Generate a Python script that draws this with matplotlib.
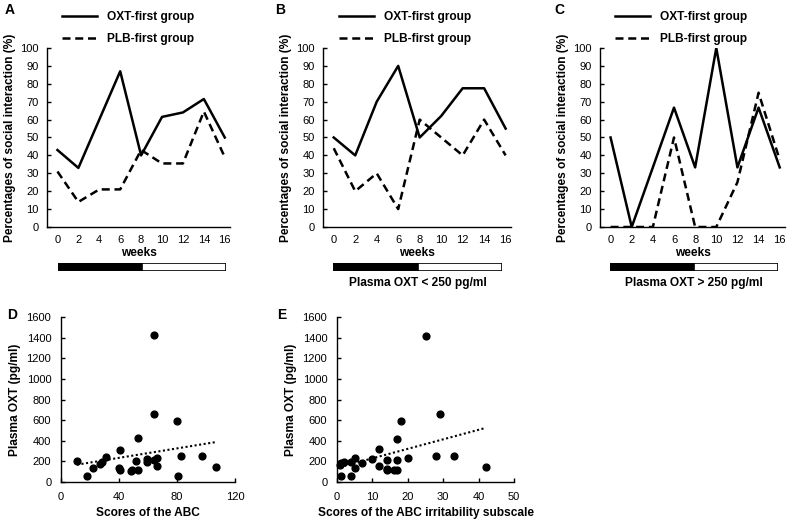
import numpy as np
import matplotlib
matplotlib.use("Agg")
import matplotlib.pyplot as plt

plt.rcParams['font.family'] = ['Liberation Sans', 'DejaVu Sans']

W, H = 792, 523

# weekly social interaction (%)
weeks = [0, 2, 4, 6, 8, 10, 12, 14, 16]
oxt_a = [43, 33, 60, 87, 40, 61.5, 64, 71.5, 50]
plb_a = [31, 14, 21, 21, 43, 35.5, 35.5, 64.5, 39]
oxt_b = [50, 40, 70, 90, 50, 62, 77.5, 77.5, 55]
plb_b = [44, 20, 30, 10, 60, 50, 40, 60, 40]
oxt_c = [50, 0, 33.3, 66.7, 33.3, 100, 33.3, 66.7, 33.3]
plb_c = [0, 0, 0, 50, 0, 0, 25, 75, 37.5]

# treatment phases (weeks) shown under the line charts
phase_len = [8, 8]
phase_col = ['black', 'white']

# scatter: ABC total score vs plasma OXT
abc_score = [11, 18, 22, 27, 28, 31, 40, 41, 41, 48, 49, 52, 53, 53, 59, 59,
             64, 64, 64, 66, 66, 80, 81, 83, 97, 107]
abc_oxt = [200, 55, 133, 172, 195, 240, 140, 114, 315, 107, 120, 205, 423, 114,
           192, 221, 211, 657, 1422, 237, 153, 589, 59, 254, 254, 143]

# scatter: ABC irritability subscale vs plasma OXT
irr_score = [0.8, 1, 2, 1, 4, 4, 5, 5, 7, 10, 12, 12, 14, 14, 14, 16, 17, 17,
             17, 18, 20, 25, 28, 29, 33, 42]
irr_oxt = [168, 185, 194, 61, 55, 195, 229, 136, 181, 223, 320, 152, 213, 113,
           125, 120, 113, 210, 420, 588, 236, 1415, 255, 656, 255, 142]


def px_axes(fig, left, right, top, bottom):
    return fig.add_axes([left / W, 1 - bottom / H, (right - left) / W, (bottom - top) / H])


fig = plt.figure(figsize=(W / 100, H / 100), dpi=100)

line_panels = [
    ('A', oxt_a, plb_a, (47, 230), 62, (58, 226), '', (10, 10)),
    ('B', oxt_b, plb_b, (323, 511), 339, (333, 502), 'Plasma OXT < 250 pg/ml', (280, 10)),
    ('C', oxt_c, plb_c, (600, 785), 615, (610, 778), 'Plasma OXT > 250 pg/ml', (559, 10)),
]

for lab, oxt, plb, (l, r), lgx, (bx0, bx1), bar_txt, (tx, ty) in line_panels:
    ax = px_axes(fig, l, r, 48, 227)
    ax.plot(weeks, oxt, color='black', lw=1.8, label='OXT-first group')
    ax.plot(weeks, plb, color='black', lw=1.8, dashes=(3.2, 1.9), label='PLB-first group')
    ax.set_xlim(-1, 16.5)
    ax.set_ylim(0, 100)
    ax.set_xticks(weeks)
    ax.set_yticks(range(0, 101, 10))
    ax.spines['top'].set_visible(False)
    ax.spines['right'].set_visible(False)
    for s in ['left', 'bottom']:
        ax.spines[s].set_linewidth(1.0)
    ax.tick_params(axis='y', direction='in', length=3, width=1, labelsize=8, pad=6)
    ax.tick_params(axis='x', length=0, labelsize=8, pad=6)
    ax.set_xlabel('weeks', fontsize=8.6, fontweight='bold', labelpad=1)
    ax.set_ylabel('Percentages of social interaction (%)', fontsize=8.6, fontweight='bold', labelpad=3)
    ax.legend(loc='upper left', bbox_to_anchor=(lgx / W, 1 - 11 / H), bbox_transform=fig.transFigure,
              frameon=False, borderpad=0, borderaxespad=0, handlelength=2.93, handletextpad=0.84,
              labelspacing=0.85, prop={'size': 8.6, 'weight': 'bold'})
    fig.text(tx / W, 1 - ty / H, lab, fontsize=10, fontweight='bold', ha='center', va='center')

    # treatment timeline bar
    bax = px_axes(fig, bx0, bx1, 263, 271)
    starts = np.cumsum([0] + phase_len[:-1])
    bax.barh(0, phase_len, left=starts, height=1, color=phase_col, edgecolor='black', linewidth=1.2)
    bax.set_xlim(0, sum(phase_len))
    bax.set_ylim(-0.5, 0.5)
    bax.axis('off')
    if bar_txt:
        fig.text((bx0 + bx1) / 2 / W, 1 - 283 / H, bar_txt, fontsize=8.6, fontweight='bold',
                 ha='center', va='center')

scatter_panels = [
    ('D', abc_score, abc_oxt, (61, 235), (0, 120), range(0, 121, 40), 'Scores of the ABC', (12, 315)),
    ('E', irr_score, irr_oxt, (337, 514), (0, 50), range(0, 51, 10), 'Scores of the ABC irritability subscale', (282, 315)),
]

for lab, xs, ys, (l, r), xlim, xt, xlabel, (tx, ty) in scatter_panels:
    ax = px_axes(fig, l, r, 317, 482)
    ax.scatter(xs, ys, s=24, color='black', zorder=3, clip_on=False)
    k, b = np.polyfit(xs, ys, 1)
    xfit = np.array([min(xs), max(xs)])
    ax.plot(xfit, k * xfit + b, color='black', lw=1.5, linestyle=(0, (1, 1.2)))
    ax.set_xlim(*xlim)
    ax.set_ylim(0, 1600)
    ax.set_xticks(list(xt))
    ax.set_yticks(range(0, 1601, 200))
    ax.spines['top'].set_visible(False)
    ax.spines['right'].set_visible(False)
    for s in ['left', 'bottom']:
        ax.spines[s].set_linewidth(1.0)
    ax.tick_params(direction='in', length=3, width=1, labelsize=8)
    ax.tick_params(axis='y', pad=7)
    ax.tick_params(axis='x', pad=7)
    ax.set_xlabel(xlabel, fontsize=8.6, fontweight='bold', labelpad=4)
    ax.set_ylabel('Plasma OXT (pg/ml)', fontsize=8.6, fontweight='bold', labelpad=4)
    fig.text(tx / W, 1 - ty / H, lab, fontsize=10, fontweight='bold', ha='center', va='center')

fig.savefig('out.png', dpi=100)
